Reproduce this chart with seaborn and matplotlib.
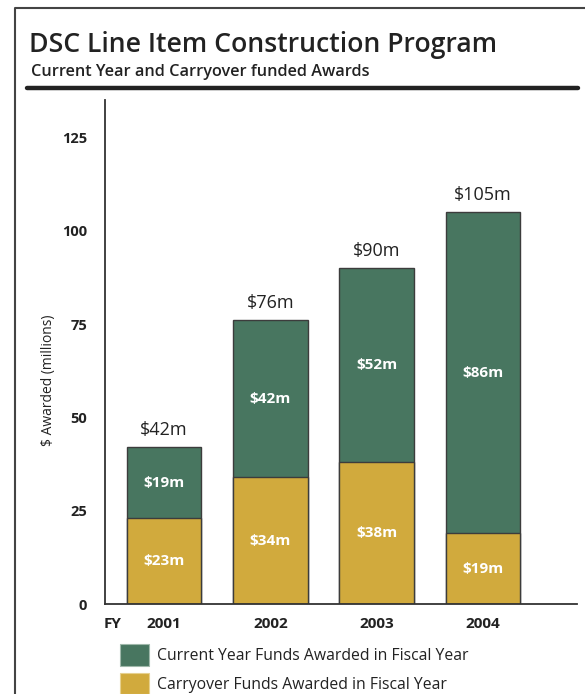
import matplotlib
matplotlib.use("Agg")
import matplotlib.pyplot as plt
import matplotlib.patches as mpatches
from matplotlib.lines import Line2D
import seaborn as sns
import pandas as pd

# Award data in $ millions by fiscal year
years = ["2001", "2002", "2003", "2004"]
carryover = [23, 34, 38, 19]
current_year = [19, 42, 52, 86]
totals = [c + n for c, n in zip(carryover, current_year)]
y_ticks = [0, 25, 50, 75, 100, 125]

GREEN = "#487660"
GOLD = "#d1aa3d"
EDGE = "#3c3c3c"
FONT = ["Open Sans", "DejaVu Sans"]

sns.set_theme(style="white")
plt.rcParams["font.family"] = FONT

df = pd.DataFrame({
    "year": years,
    "carryover": carryover,
    "current": current_year,
    "total": totals,
})

W, H = 585, 694
fig = plt.figure(figsize=(W / 100, H / 100), dpi=100)

# axes box in pixel units: x 105..577, y 100..604
ax = fig.add_axes([105 / W, (H - 604) / H, (577 - 105) / W, 504 / H])

# stacked bars: full total in green, carryover drawn over its lower part
sns.barplot(data=df, x="year", y="total", color=GREEN, width=0.70,
            edgecolor=EDGE, linewidth=1.0, saturation=1, ax=ax)
sns.barplot(data=df, x="year", y="carryover", color=GOLD, width=0.70,
            edgecolor=EDGE, linewidth=1.0, saturation=1, ax=ax)

ax.set_xlim(-0.555, 3.885)
ax.set_ylim(0, 135)
ax.set_yticks(y_ticks)
ax.set_yticklabels([str(t) for t in y_ticks], fontsize=10.5, fontweight="bold",
                   color="#222222")
ax.set_xticks(range(len(years)))
ax.set_xticklabels(years, fontsize=11, fontweight="bold", color="#222222")
ax.tick_params(axis="y", length=0, pad=13)
ax.tick_params(axis="x", length=0, pad=9)
ax.set_xlabel("")
ax.set_ylabel("$ Awarded (millions)", fontsize=10, color="#222222")
ax.yaxis.set_label_coords(-0.104, 0.444)

for s in ["top", "right"]:
    ax.spines[s].set_visible(False)
for s in ["left", "bottom"]:
    ax.spines[s].set_color("#333333")
    ax.spines[s].set_linewidth(1.3)

# value labels
for i, (c, n, t) in enumerate(zip(carryover, current_year, totals)):
    ax.annotate(f"${t}m", (i, t), xytext=(0, 6), textcoords="offset points",
                ha="center", va="bottom", fontsize=13, fontweight="medium",
                color="#222222")
    ax.text(i, c / 2, f"${c}m", ha="center", va="center", fontsize=11,
            fontweight="bold", color="white")
    ax.text(i, c + n / 2, f"${n}m", ha="center", va="center", fontsize=11,
            fontweight="bold", color="white")

fig.text(113 / W, 1 - 624 / H, "FY", ha="center", va="center", fontsize=11,
         fontweight="bold", color="#222222")

# title block
fig.text(29 / W, 1 - 45 / H, "DSC Line Item Construction Program", ha="left",
         va="center", fontsize=19.2, fontweight="semibold", color="#222222")
fig.text(31 / W, 1 - 72 / H, "Current Year and Carryover funded Awards",
         ha="left", va="center", fontsize=11.7, fontweight="semibold",
         color="#222222")
fig.add_artist(Line2D([27 / W, 578 / W], [1 - 88 / H, 1 - 88 / H],
                      transform=fig.transFigure, color="#222222", linewidth=3.2))

# outer frame (left and top edges)
fig.add_artist(Line2D([15 / W, 15 / W, 1.0], [0.0, 1 - 8 / H, 1 - 8 / H],
                      transform=fig.transFigure, color="#444444", linewidth=1.5))

# legend
handles = [
    mpatches.Patch(facecolor=GREEN, edgecolor="#9fb8aa", linewidth=0.8,
                   label="Current Year Funds Awarded in Fiscal Year"),
    mpatches.Patch(facecolor=GOLD, edgecolor="#e6d08f", linewidth=0.8,
                   label="Carryover Funds Awarded in Fiscal Year"),
]
fig.legend(handles=handles, loc="upper left",
           bbox_to_anchor=(120 / W, 1 - 644 / H), frameon=False,
           fontsize=11.3, handlelength=1.85, handleheight=1.75,
           handletextpad=0.5, labelspacing=0.45, borderpad=0,
           borderaxespad=0, labelcolor="#222222")

fig.savefig("out.png", dpi=100)
